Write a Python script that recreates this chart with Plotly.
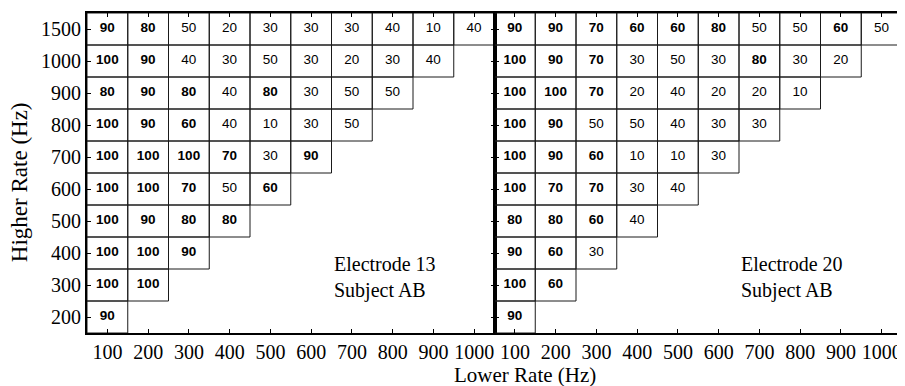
import plotly.graph_objects as go
from plotly.subplots import make_subplots

lower_rates = [100, 200, 300, 400, 500, 600, 700, 800, 900, 1000]
higher_rates = [200, 300, 400, 500, 600, 700, 800, 900, 1000, 1500]

# percent scores, one list per higher rate (ascending), entries for lower rates 100.. upward
e13_scores = [
    [90],
    [100, 100],
    [100, 100, 90],
    [100, 90, 80, 80],
    [100, 100, 70, 50, 60],
    [100, 100, 100, 70, 30, 90],
    [100, 90, 60, 40, 10, 30, 50],
    [80, 90, 80, 40, 80, 30, 50, 50],
    [100, 90, 40, 30, 50, 30, 20, 30, 40],
    [90, 80, 50, 20, 30, 30, 30, 40, 10, 40],
]
e20_scores = [
    [90],
    [100, 60],
    [90, 60, 30],
    [80, 80, 60, 40],
    [100, 70, 70, 30, 40],
    [100, 90, 60, 10, 10, 30],
    [100, 90, 50, 50, 40, 30, 30],
    [100, 100, 70, 20, 40, 20, 20, 10],
    [100, 90, 70, 30, 50, 30, 80, 30, 20],
    [90, 90, 70, 60, 60, 80, 50, 50, 60, 50],
]
panel_labels = ["Electrode 13<br>Subject AB", "Electrode 20<br>Subject AB"]
bold_threshold = 60

SERIF = "Liberation Serif"
SANS = "Liberation Sans"

fig = make_subplots(rows=1, cols=2, horizontal_spacing=0)

for p, scores in enumerate([e13_scores, e20_scores]):
    col = p + 1
    lx, ly = [], []
    bx, by, bt = [], [], []
    nx, ny, nt = [], [], []
    for r, row in enumerate(scores):
        for c, v in enumerate(row):
            lx += [c - 0.5, c + 0.5, c + 0.5, c - 0.5, c - 0.5, None]
            ly += [r - 0.5, r - 0.5, r + 0.5, r + 0.5, r - 0.5, None]
            if v >= bold_threshold:
                bx.append(c); by.append(r); bt.append(str(v))
            else:
                nx.append(c); ny.append(r); nt.append(str(v))
    fig.add_trace(go.Scatter(x=lx, y=ly, mode="lines",
                             line=dict(color="#1a1a1a", width=1),
                             hoverinfo="skip", showlegend=False), row=1, col=col)
    fig.add_trace(go.Scatter(x=bx, y=by, text=bt, mode="text",
                             textfont=dict(family=SANS, size=13.5, color="black", weight="bold"),
                             hoverinfo="skip", showlegend=False), row=1, col=col)
    fig.add_trace(go.Scatter(x=nx, y=ny, text=nt, mode="text",
                             textfont=dict(family=SANS, size=13.5, color="black"),
                             hoverinfo="skip", showlegend=False), row=1, col=col)

axis_common = dict(
    range=[-0.5, 9.5], ticks="inside", ticklen=4, tickwidth=1, tickcolor="black",
    showline=True, linewidth=2, linecolor="black", mirror="ticks",
    showgrid=False, zeroline=False,
    tickfont=dict(family=SERIF, size=20, color="black"),
)

for col in (1, 2):
    fig.update_xaxes(tickvals=list(range(len(lower_rates))),
                     ticktext=[str(v) for v in lower_rates], row=1, col=col, **axis_common)
    fig.update_yaxes(tickvals=list(range(len(higher_rates))),
                     ticktext=[str(v) for v in higher_rates],
                     showticklabels=(col == 1), row=1, col=col, **axis_common)

annotations = []
for p, lab in enumerate(panel_labels):
    annotations.append(dict(
        text=lab, x=5.5, y=1.22, xref="x" if p == 0 else "x2", yref="y" if p == 0 else "y2",
        xanchor="left", yanchor="middle", align="left", showarrow=False,
        font=dict(family=SERIF, size=20, color="black")))
annotations.append(dict(
    text="Lower Rate (Hz)", x=0.537, y=-0.131, xref="paper", yref="paper",
    xanchor="center", yanchor="middle", showarrow=False,
    font=dict(family=SERIF, size=21, color="black")))
annotations.append(dict(
    text="Higher Rate (Hz)", x=-0.082, y=0.472, xref="paper", yref="paper",
    xanchor="center", yanchor="middle", showarrow=False, textangle=-90,
    font=dict(family=SERIF, size=23, color="black")))

# page body has an 8px margin, so the figure is sized to end at the window edge
fig.update_layout(
    width=897, height=378,
    margin=dict(l=79, r=1, t=5, b=53),
    paper_bgcolor="white", plot_bgcolor="white",
    annotations=annotations,
    showlegend=False,
)

fig.write_html("out.html")
